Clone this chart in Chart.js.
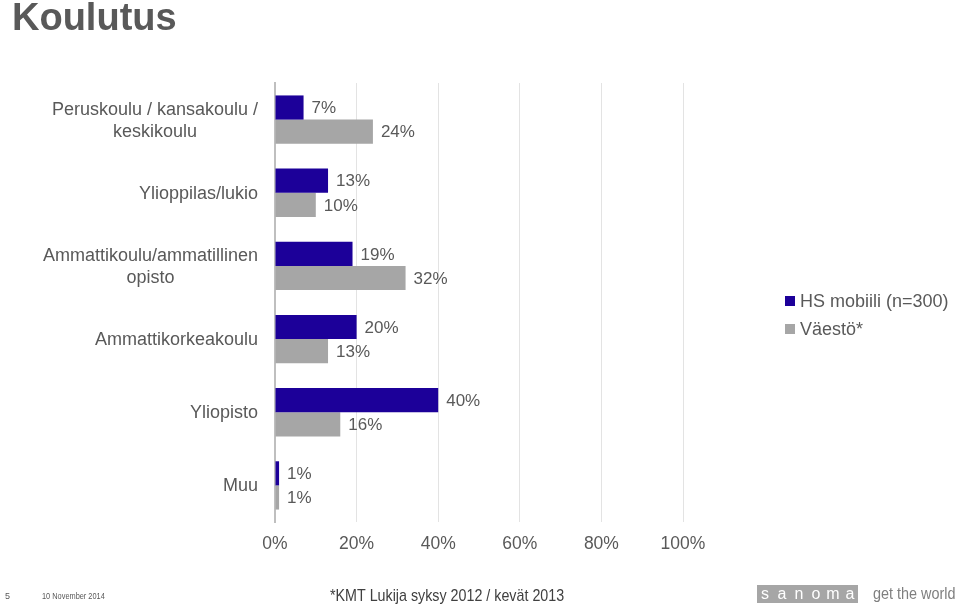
<!DOCTYPE html>
<html><head><meta charset="utf-8">
<script src="https://cdn.jsdelivr.net/npm/chart.js@4/dist/chart.umd.min.js"></script>
<style>html,body{margin:0;padding:0;background:#fff;}#wrap{width:960px;height:604px;position:relative;}</style>
</head><body><div id="wrap"><canvas id="c" width="960" height="604"></canvas></div>
<script>
const categories = [["Peruskoulu / kansakoulu /","keskikoulu"],"Ylioppilas/lukio",["Ammattikoulu/ammatillinen","opisto"],"Ammattikorkeakoulu","Yliopisto","Muu"];
const seriesNames = ["HS mobiili (n=300)","Väestö*"];
const hsMobiili = [7,13,19,20,40,1];
const vaesto = [24,10,32,13,16,1];
const xTicks = [0,20,40,60,80,100];
const colors = ["#1C0099","#A6A6A6"];
const textColor = "#595959";
const FONT = "'Liberation Sans', Arial, sans-serif";

const decor = {
  id:'decor',
  afterDraw(chart){
    const ctx = chart.ctx;
    ctx.save();
    // category labels (multi-line centred within block, block right-aligned)
    const ys = chart.scales.y;
    ctx.font = "18px "+FONT; ctx.fillStyle = textColor; ctx.textBaseline='middle'; ctx.textAlign='center';
    chart.data.labels.forEach((lab,i)=>{
      const lines = Array.isArray(lab)?lab:[lab];
      const w = Math.max(...lines.map(l=>ctx.measureText(l).width));
      const cx = 258 - w/2;
      const cy = ys.getPixelForValue(i);
      const lh = 22;
      lines.forEach((l,k)=>{
        ctx.fillText(l, cx, cy + (k-(lines.length-1)/2)*lh + 1);
      });
    });
    // data labels
    ctx.font = "17px "+FONT; ctx.textAlign='left';
    chart.data.datasets.forEach((ds,i)=>{
      chart.getDatasetMeta(i).data.forEach((el,j)=>{
        ctx.fillText(ds.data[j]+"%", el.x+8, el.y+1);
      });
    });
    // title
    ctx.font = "bold 38px "+FONT; ctx.textBaseline='alphabetic';
    ctx.fillText("Koulutus", 12, 30);
    // legend
    ctx.font = "18px "+FONT; ctx.textBaseline='middle';
    chart.data.datasets.forEach((ds,i)=>{
      const y = 301 + i*28;
      ctx.fillStyle = ds.backgroundColor;
      ctx.fillRect(785, y-5, 10, 10);
      ctx.fillStyle = textColor;
      ctx.fillText(ds.label, 800, y+1);
    });
    // footer
    ctx.textBaseline='alphabetic';
    ctx.font = "9px "+FONT; ctx.fillStyle = textColor;
    ctx.fillText("5", 5, 599);
    ctx.save(); ctx.translate(42,599); ctx.scale(0.82,1); ctx.fillText("10 November 2014",0,0); ctx.restore();
    ctx.save(); ctx.translate(330,601); ctx.scale(0.84,1); ctx.font = "17px "+FONT; ctx.fillStyle="#404040"; ctx.fillText("*KMT Lukija syksy 2012 / kevät 2013",0,0); ctx.restore();
    ctx.fillStyle = "#A6A6A6"; ctx.fillRect(757, 585, 101, 18);
    ctx.fillStyle = "#fff"; ctx.font = "16px "+FONT; ctx.textAlign='center';
    const letters = "sanoma";
    for(let k=0;k<letters.length;k++){ ctx.fillText(letters[k], 765+k*17, 599); }
    ctx.textAlign='left'; ctx.fillStyle = "#7F7F7F";
    ctx.save(); ctx.translate(873,599); ctx.scale(0.9,1); ctx.font="16px "+FONT; ctx.fillText("get the world",0,0); ctx.restore();
    ctx.restore();
  }
};

new Chart(document.getElementById('c'), {
  type:'bar',
  data:{
    labels: categories,
    datasets:[
      {label: seriesNames[0], data: hsMobiili, backgroundColor: colors[0]},
      {label: seriesNames[1], data: vaesto, backgroundColor: colors[1]}
    ]
  },
  options:{
    indexAxis:'y',
    responsive:false,
    animation:false,
    devicePixelRatio:1,
    layout:{padding:{left:0,right:277,top:83,bottom:0}},
    datasets:{bar:{categoryPercentage:0.66,barPercentage:1}},
    plugins:{legend:{display:false},tooltip:{enabled:false}},
    scales:{
      x:{
        min:0,max:100,
        afterBuildTicks(s){ s.ticks = xTicks.map(v=>({value:v})); },
        afterFit(s){ s.height = 82; },
        grid:{color:'#E3E3E3',drawTicks:false},
        border:{display:false},
        ticks:{callback:v=>v+'%',color:textColor,font:{family:FONT,size:17.5},padding:12,maxRotation:0}
      },
      y:{
        afterFit(s){ s.width = 275; },
        grid:{display:false,drawTicks:false},
        border:{display:true,color:'#BFBFBF',width:2},
        ticks:{display:false}
      }
    }
  },
  plugins:[decor]
});
</script></body></html>
